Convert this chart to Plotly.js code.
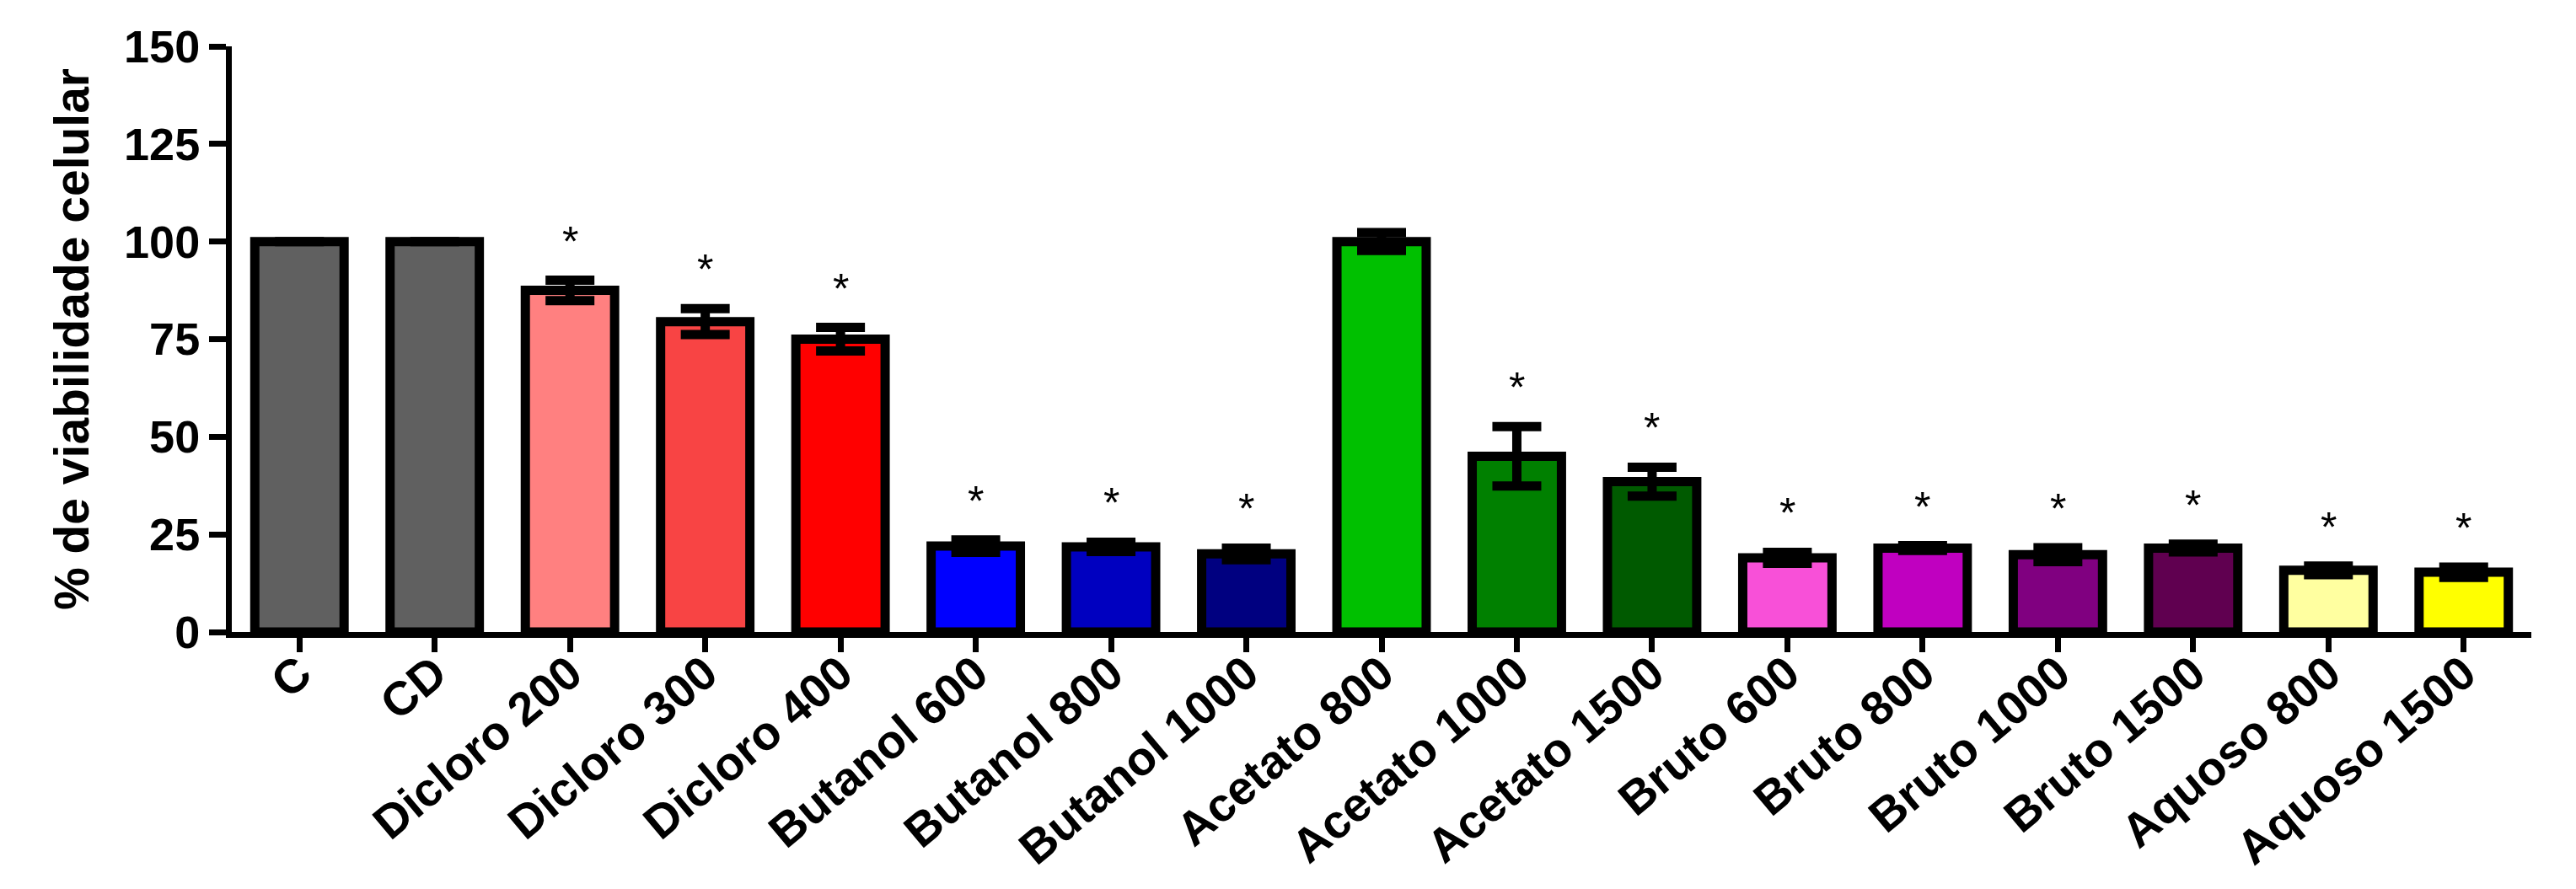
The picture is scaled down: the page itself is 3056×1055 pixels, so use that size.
<!DOCTYPE html>
<html>
<head>
<meta charset="utf-8">
<script src="https://cdn.plot.ly/plotly-3.0.1.min.js"></script>
<style>
  html, body { margin: 0; padding: 0; background: #ffffff; }
  #chart { width: 3056px; height: 1055px; }
</style>
</head>
<body>
<div id="chart"></div>
<script>
// ---- data ----
var categories = ["C", "CD", "Dicloro 200", "Dicloro 300", "Dicloro 400",
  "Butanol 600", "Butanol 800", "Butanol 1000",
  "Acetato 800", "Acetato 1000", "Acetato 1500",
  "Bruto 600", "Bruto 800", "Bruto 1000", "Bruto 1500",
  "Aquoso 800", "Aquoso 1500"];
var viability = [100, 100, 87.5, 79.5, 75, 22, 21.8, 20, 100, 45, 38.5, 19, 21.5, 19.8, 21.5, 15.8, 15.3];
var semError = [0, 0, 2.6, 3.3, 3, 1.6, 1.2, 1.5, 2.3, 7.6, 3.7, 1.4, 0.6, 1.8, 1, 1.1, 1.3];
var significant = [false, false, true, true, true, true, true, true, false, true, true, true, true, true, true, true, true];
var barColors = ["#606060", "#606060", "#FF8080", "#F84444", "#FF0000",
  "#0000FF", "#0000C0", "#000080",
  "#00C000", "#008000", "#005A00",
  "#F850D8", "#C000C0", "#800080", "#600050",
  "#FFFFA0", "#FFFF00"];
var yTicks = [0, 25, 50, 75, 100, 125, 150];

var trace = {
  type: "bar",
  x: categories,
  y: viability,
  width: 0.66,
  marker: { color: barColors, line: { color: "#000000", width: 11 } },
  error_y: { type: "data", array: semError, visible: true, color: "#000000", thickness: 11, width: 29 },
  hoverinfo: "x+y"
};

var annotations = [];
categories.forEach(function (c, i) {
  if (significant[i]) {
    annotations.push({
      x: c, y: viability[i] + semError[i], xref: "x", yref: "y",
      text: "*", showarrow: false, yanchor: "middle", yshift: 46,
      font: { family: "Liberation Sans, Arial, sans-serif", size: 50, color: "#000000" }
    });
  }
});

var layout = {
  width: 3056, height: 1055,
  margin: { l: 275, r: 53, t: 55, b: 305 },
  paper_bgcolor: "#ffffff", plot_bgcolor: "#ffffff",
  showlegend: false,
  xaxis: {
    type: "category",
    range: [-0.5, 16.5],
    showline: true, linecolor: "#000000", linewidth: 7,
    ticks: "outside", ticklen: 17, tickwidth: 7, tickcolor: "#000000",
    tickangle: -40,
    ticklabelstandoff: -30,
    ticklabelshift: 0,
    tickfont: { family: "Liberation Sans, Arial, sans-serif", size: 56, color: "#000000", weight: "bold" },
    showgrid: false, zeroline: false
  },
  yaxis: {
    range: [0, 150],
    tickvals: yTicks,
    ticktext: yTicks.map(String),
    showline: true, linecolor: "#000000", linewidth: 7,
    ticks: "outside", ticklen: 20, tickwidth: 7, tickcolor: "#000000",
    tickfont: { family: "Liberation Sans, Arial, sans-serif", size: 54, color: "#000000", weight: "bold" },
    showgrid: false, zeroline: false,
    title: {
      text: "% de viabilidade celular",
      standoff: 26,
      font: { family: "Liberation Sans, Arial, sans-serif", size: 57, color: "#000000", weight: "bold" }
    }
  },
  annotations: annotations
};

Plotly.newPlot("chart", [trace], layout, { displayModeBar: false, staticPlot: true });
</script>
</body>
</html>
